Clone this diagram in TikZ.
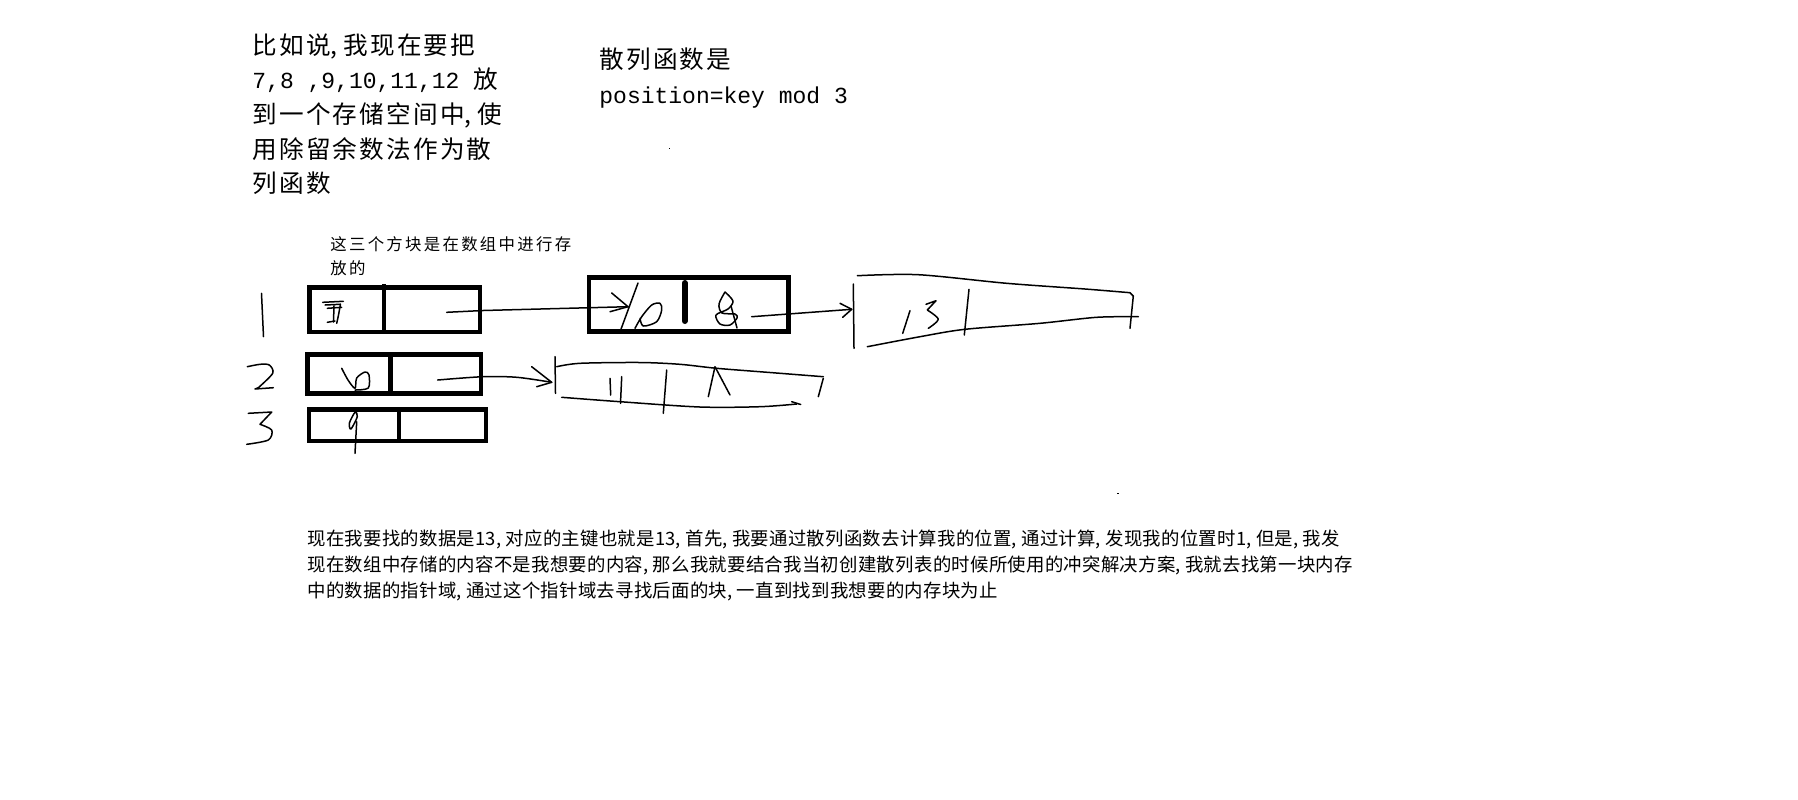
\documentclass[tikz,border=0pt]{standalone}
\usepackage{fontspec}
\setmainfont{Noto Sans CJK SC}
\setmonofont{Liberation Mono}
\newfontfamily\bigcjk{Noto Sans CJK SC}[LetterSpace=9]
\newfontfamily\notecjk{Noto Sans CJK SC}[LetterSpace=14]
\newfontfamily\paracjk{Noto Sans CJK SC}[LetterSpace=1.5]
\newcommand{\keyfont}{\fontsize{11.5pt}{14pt}\ttfamily}
\newcommand{\hcomma}{\makebox[0.52em][l]{,}}
\begin{document}
\begin{tikzpicture}[x=0.5pt, y=-0.5pt,
  pen/.style={line width=0.75pt, line cap=round, line join=round},
  cellbox/.style={draw, line width=2.25pt, inner sep=0pt},
  divider/.style={line width=2.1pt},
  bigtxt/.style={anchor=base west, inner sep=0pt, font={\fontsize{12.3pt}{15pt}\bigcjk}},
  notetxt/.style={anchor=base west, inner sep=0pt, font={\fontsize{8.2pt}{10pt}\notecjk}},
  paratxt/.style={anchor=base west, inner sep=0pt, font={\fontsize{9.2pt}{11pt}\paracjk}}]
  \fill[white] (0,0) rectangle (1798,799);
  \useasboundingbox (0,0) rectangle (1798,799);
  % problem statement
  \foreach \i/\yy/\txt in {1/54.3/{比如说\hcomma 我现在要把}, 2/88.5/{{\keyfont 7,8 ,9,10,11,12 }放}, 3/123.5/{到一个存储空间中\hcomma 使}, 4/158/{用除留余数法作为散}, 5/192.7/{列函数}}
    \node[bigtxt] (q\i) at (252,\yy) {\txt};
  \node[bigtxt] (hf) at (599,68.3) {散列函数是};
  \node[anchor=base west, inner sep=0pt, font=\keyfont] (mod) at (599,103.3) {position=key mod 3};
  \fill (668.5,147.5) rectangle ++(1.5,1.5);
  \node[notetxt] (n1) at (330,250.5) {这三个方块是在数组中进行存};
  \node[notetxt] (n2) at (330,274) {放的};
  % row numbers
  \draw[pen] plot[smooth] coordinates {(261.5,293.3) (262.5,315) (263.5,336.7)};
  \draw[pen] plot[smooth] coordinates {(247.3,366.7) (260,364.3) (269.3,365) (272.7,373.3) (258.3,387.7)} -- (255,389) -- (273.3,387.7);
  \draw[pen] (248.3,413.3) -- (271.7,412) -- (260,424.3) plot[smooth] coordinates {(260,424.3) (271.7,430) (268.3,440) (246.7,444.3)};
  % array cells
  \node[cellbox, minimum width=85.25pt, minimum height=22.25pt] (b1) at (394.5,309.5) {};
  \node[cellbox, minimum width=86.75pt, minimum height=19.5pt] (b2) at (394.25,374) {};
  \node[cellbox, minimum width=88.5pt, minimum height=15.75pt] (b3) at (397.5,425.25) {};
  \node[cellbox, minimum width=99.85pt, minimum height=27.2pt] (b4) at (688.85,304.5) {};
  \draw[divider] (384,284) -- (384,332);
  \draw[divider, line width=2.5pt] (390,354.5) -- (390,393.5);
  \draw[divider] (399,409.5) -- (399,441);
  \draw[line width=3pt, line cap=round] (684.7,283) -- (684.7,321);
  % handwritten keys
  \draw[pen] (322.7,302.3) -- (343.3,301.3) (325,305) -- (340,304.3) (327.3,308.3) -- (341.7,307.3)
    (334,306) -- (333.5,322) (327.3,322.3) -- (335,321);
  \draw[pen] plot[smooth] coordinates {(340.5,304) (338.5,315) (336.7,323.3)};
  \draw[pen] plot[smooth] coordinates {(341.7,368.3) (348,380) (355,388.3) (356.7,378) (365,372) (369,375) (368.3,388) (355,390)};
  \draw[pen] plot[smooth cycle] coordinates {(355,412.3) (349.3,423.3) (351,429) (357.3,416.7)};
  \draw[pen] (356.7,421.7) -- (355,453.3);
  \draw[pen] (638,283) -- (620.7,330);
  \draw[pen] plot[smooth] coordinates {(635,328.3) (641.7,316.7) (651.7,305) (660,303.3) (661.7,310) (656.7,321.7) (643.3,326) (640,318.3)};
  \draw[pen] plot[smooth] coordinates {(725,292) (719,304) (722,313) (735,314) (737,318) (730,325) (720,324) (716,315) (728,309) (733,301) (725,292)};
  \draw[pen] (731,306) -- (737,328);
  % chained blocks
  \draw[pen] (853.3,284) -- (854,348.3);
  \draw[pen] plot[smooth] coordinates {(857.3,275.7) (918.3,274.7) (1006.7,283.3) (1085,289) (1130,292.7)} -- (1133.3,296) -- (1130,328.3);
  \draw[pen] plot[smooth] coordinates {(867.3,346.7) (920,336.7) (965,329.3) (1040,323.3) (1096.7,317.3) (1138.3,316.7)};
  \draw[pen] (969,289.3) -- (964.3,335) (910,310.7) -- (902.7,333.3);
  \draw[pen] (926,304.3) -- (936,300.7) -- (927.3,310) plot[smooth] coordinates {(927.3,310) (938.3,319.3) (928.3,328.3)};
  \draw[pen] (555,356.7) -- (555.5,393.3);
  \draw[pen] plot[smooth] coordinates {(556.7,366.7) (580,363.3) (640,362.5) (680,364.3) (716.7,368.3) (770,372.5) (823.3,376.7)};
  \draw[pen] (823.3,378.3) -- (818.3,396.7);
  \draw[pen] plot[smooth] coordinates {(561.7,397.3) (620,401.7) (700,407) (760,406.7) (796.7,404)};
  \draw[pen] (791.7,401.7) -- (800.7,404.5);
  \draw[pen] (610,378.3) -- (610.7,395) (621.7,376.7) -- (620.5,403.3) (666.7,370) -- (663.3,413.3);
  \draw[pen] (708.3,396.7) -- (715,366.7) -- (730,395);
  % pointers
  \coordinate (s1) at (446.7,312.3); \coordinate (t1) at (628,306.7);
  \coordinate (s2) at (751.7,316.7); \coordinate (t2) at (851.7,309.3);
  \coordinate (s3) at (437.7,380);   \coordinate (t3) at (551.7,382.3);
  \draw[pen] (s1) -- (483,310.5) -- (t1);
  \draw[pen] (t1) ++(-16.3,-13.7) -- (t1) -- ++(-18,5);
  \draw[pen] (s2) -- (t2);
  \draw[pen] (t2) ++(-11.7,-6) -- (t2) -- ++(-9,8);
  \draw[pen] plot[smooth] coordinates {(s3) (483,376.7) (517,377.3) (t3)};
  \draw[pen] (t3) ++(-20,-15.6) -- (t3) -- ++(-15,4.4);
  \fill (1117,492.5) rectangle ++(1.5,1.5);
  % explanation
  \foreach \i/\yy/\txt in {1/545/{现在我要找的数据是13\hcomma 对应的主键也就是13\hcomma 首先\hcomma 我要通过散列函数去计算我的位置\hcomma 通过计算\hcomma 发现我的位置时1\hcomma 但是\hcomma 我发}, 2/571/{现在数组中存储的内容不是我想要的内容\hcomma 那么我就要结合我当初创建散列表的时候所使用的冲突解决方案\hcomma 我就去找第一块内存}, 3/597/{中的数据的指针域\hcomma 通过这个指针域去寻找后面的块\hcomma 一直到找到我想要的内存块为止}}
    \node[paratxt] (p\i) at (307,\yy) {\txt};
\end{tikzpicture}
\end{document}
